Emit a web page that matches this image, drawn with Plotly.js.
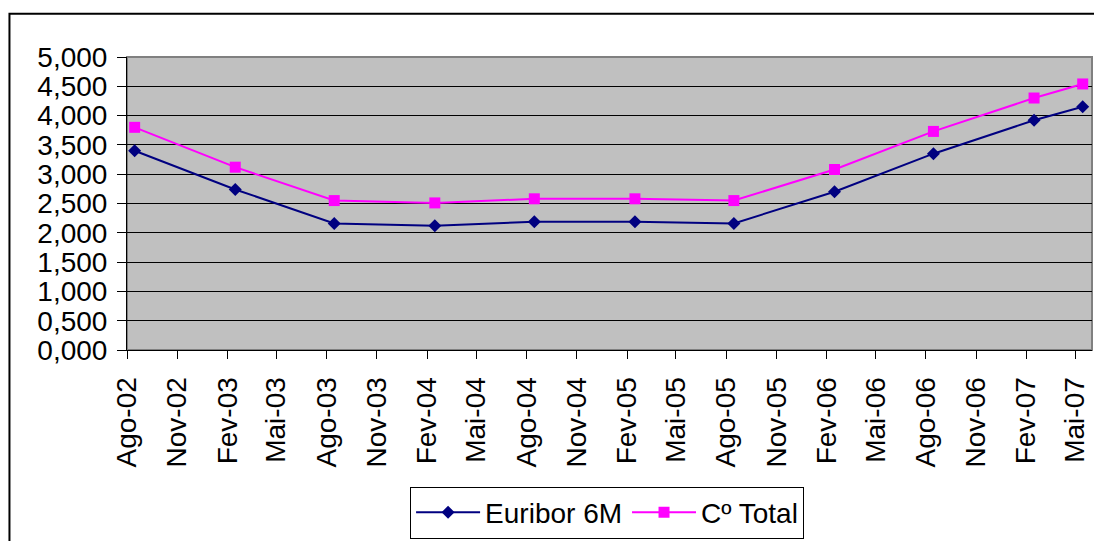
<!DOCTYPE html>
<html>
<head>
<meta charset="utf-8">
<script src="https://cdn.plot.ly/plotly-3.0.1.min.js"></script>
<style>html,body{margin:0;padding:0;background:#fff;}#chart{width:1094px;height:541px;}</style>
</head>
<body>
<div id="chart"></div>
<script>
const dates = ['2002-08-15','2003-02-15','2003-08-15','2004-02-15','2004-08-15','2005-02-15','2005-08-15','2006-02-15','2006-08-15','2007-02-15','2007-05-15'];
const euribor6M = [3.40, 2.74, 2.16, 2.12, 2.19, 2.19, 2.16, 2.70, 3.35, 3.92, 4.15];
const coTotal = [3.80, 3.12, 2.55, 2.51, 2.58, 2.58, 2.55, 3.08, 3.73, 4.30, 4.54];
const tickDates = ['2002-08-01','2002-11-01','2003-02-01','2003-05-01','2003-08-01','2003-11-01','2004-02-01','2004-05-01','2004-08-01','2004-11-01','2005-02-01','2005-05-01','2005-08-01','2005-11-01','2006-02-01','2006-05-01','2006-08-01','2006-11-01','2007-02-01','2007-05-01'];
const tickLabels = ['Ago-02','Nov-02','Fev-03','Mai-03','Ago-03','Nov-03','Fev-04','Mai-04','Ago-04','Nov-04','Fev-05','Mai-05','Ago-05','Nov-05','Fev-06','Mai-06','Ago-06','Nov-06','Fev-07','Mai-07'];
const seriesNames = ['Euribor 6M', 'C\u00ba Total'];

const font = 'Liberation Sans, Arial, sans-serif';
const traces = [
  {x: dates, y: euribor6M, name: seriesNames[0], type: 'scatter', mode: 'lines+markers',
   line: {color: '#000080', width: 2}, marker: {symbol: 'diamond', size: 10, color: '#000080'}},
  {x: dates, y: coTotal, name: seriesNames[1], type: 'scatter', mode: 'lines+markers',
   line: {color: '#FF00FF', width: 2}, marker: {symbol: 'square', size: 11, color: '#FF00FF'}}
];
const layout = {
  width: 1094, height: 541,
  margin: {l: 127, r: 2, t: 57, b: 188},
  paper_bgcolor: '#ffffff', plot_bgcolor: '#C0C0C0',
  separators: ',.',
  font: {family: font, size: 28, color: '#000'},
  showlegend: true,
  legend: {orientation: 'h', x: 0.4975, xanchor: 'center', y: -0.466, yanchor: 'top',
    bgcolor: '#fff', bordercolor: '#000', borderwidth: 1, itemwidth: 64,
    font: {family: font, size: 28, color: '#000'}, tracegroupgap: 0},
  xaxis: {type: 'date', range: ['2002-08-01', '2007-06-01'], tickmode: 'array',
    tickvals: tickDates, ticktext: tickLabels, tickangle: -90,
    ticks: 'outside', ticklen: 8, tickcolor: '#000', tickwidth: 1, ticklabelstandoff: 7,
    showgrid: false, zeroline: false, showline: true, linecolor: '#000', linewidth: 1,
    tickfont: {family: font, size: 28, color: '#000'}},
  yaxis: {range: [0, 5], dtick: 0.5, tick0: 0, tickformat: '.3f',
    ticks: 'outside', ticklen: 9, tickcolor: '#000', tickwidth: 1, ticklabelstandoff: 4,
    showgrid: true, gridcolor: '#000', gridwidth: 1, zeroline: false,
    showline: true, linecolor: '#000', linewidth: 1,
    tickfont: {family: font, size: 28, color: '#000'}},
  shapes: [
    {type: 'rect', xref: 'paper', yref: 'paper', x0: 0, x1: 1, y0: 0, y1: 1,
     line: {color: '#808080', width: 2}, layer: 'below'},
    {type: 'rect', xref: 'paper', yref: 'paper', x0: -0.1218, x1: 1.2, y0: -1, y1: 1.1474,
     line: {color: '#000', width: 2}, fillcolor: 'rgba(0,0,0,0)', layer: 'below'}
  ]
};
Plotly.newPlot('chart', traces, layout, {displayModeBar: false, staticPlot: true});
</script>
</body>
</html>
